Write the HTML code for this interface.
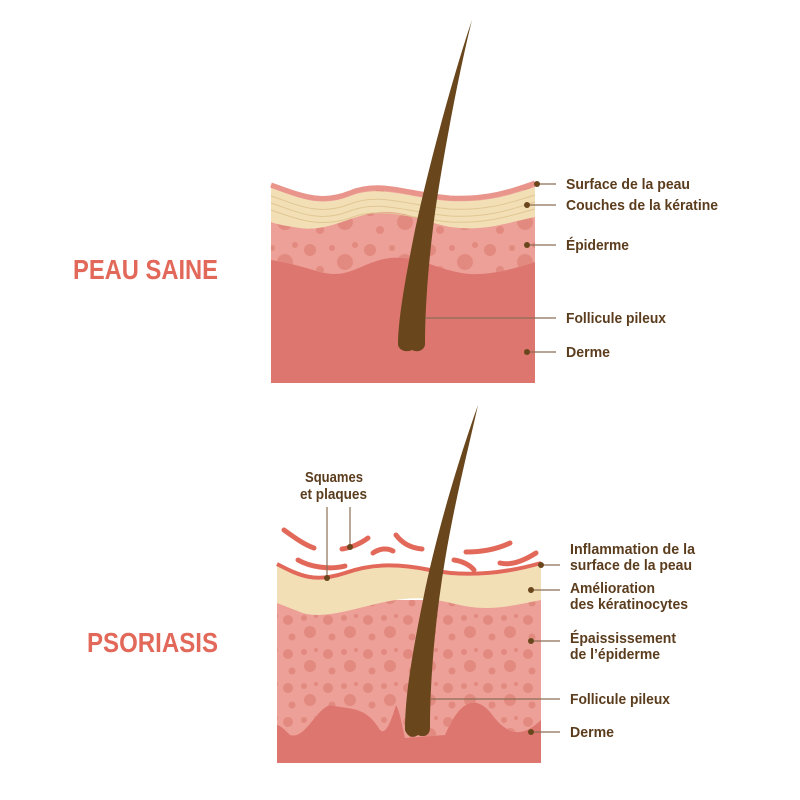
<!DOCTYPE html>
<html><head><meta charset="utf-8"><style>
html,body{margin:0;padding:0;background:#fff;}
svg{display:block}
.l{font-family:"Liberation Sans",sans-serif;font-weight:bold;font-size:15px;fill:#5b3d1e}
.t{font-family:"Liberation Sans",sans-serif;font-weight:bold;font-size:28px;fill:#e2695a}
</style></head><body>
<svg width="800" height="800" viewBox="0 0 800 800" xmlns="http://www.w3.org/2000/svg">
<defs>
<pattern id="dots" width="60" height="40" patternUnits="userSpaceOnUse">
<circle cx="10" cy="10" r="6" fill="#e38a80"/><circle cx="32" cy="8" r="3" fill="#e38a80"/><circle cx="45" cy="22" r="8" fill="#e38a80"/><circle cx="20" cy="30" r="4" fill="#e38a80"/><circle cx="55" cy="5" r="3" fill="#e38a80"/>
</pattern>
<pattern id="dots2" width="40" height="34" patternUnits="userSpaceOnUse">
<circle cx="8" cy="8" r="5" fill="#e38a80"/><circle cx="24" cy="6" r="3" fill="#e38a80"/><circle cx="30" cy="20" r="6" fill="#e38a80"/><circle cx="12" cy="25" r="3.5" fill="#e38a80"/><circle cx="36" cy="4" r="2" fill="#e38a80"/>
</pattern>
</defs>

<rect x="271" y="240" width="264" height="143" fill="#de7670"/>
<path d="M271 185 C300 195 320 205 350 193 C380 180 410 195 450 198 C490 200 515 190 535 183 L535 262 C510 270 490 275 470 274 C440 272 420 255 390 258 C360 262 350 280 320 272 C300 266 285 262 271 260 Z" fill="#eda097"/>
<path d="M271 185 C300 195 320 205 350 193 C380 180 410 195 450 198 C490 200 515 190 535 183 L535 262 C510 270 490 275 470 274 C440 272 420 255 390 258 C360 262 350 280 320 272 C300 266 285 262 271 260 Z" fill="url(#dots)"/>
<path d="M271 188 C300 198 320 208 350 196 C380 184 410 198 450 201 C490 203 515 193 535 187 L535 217 C510 222 490 230 460 228 C430 226 410 210 380 212 C350 215 330 232 300 228 C285 226 276 224 271 222 Z" fill="#f2dfb6"/>
<g fill="none" stroke="#e0c793" stroke-width="1">
<path d="M271 196 C300 206 320 216 350 204 C380 192 410 206 450 209 C490 211 515 201 535 195"/>
<path d="M271 203 C300 213 320 223 350 211 C380 199 410 213 450 216 C490 218 515 208 535 202"/>
<path d="M271 210 C300 220 320 228 350 218 C380 206 410 218 450 222 C490 224 515 214 535 209"/>
</g>
<path d="M271 185 C300 195 320 205 350 193 C380 180 410 195 450 198 C490 200 515 190 535 183" fill="none" stroke="#e9958c" stroke-width="5"/>
<path d="M472 20 C455 70 430 160 415 230 C405 280 398 320 398 345 C400 352 408 352 412 350 C418 353 424 350 425 345 C425 300 430 240 440 180 C450 120 462 60 472 20 Z" fill="#6a461c"/>

<rect x="277" y="600" width="264" height="163" fill="#de7670"/>
<path d="M277 600 L541 600 L541 720 C525 735 510 740 490 712 C475 695 460 700 445 735 L405 738 C402 725 400 712 396 705 C390 725 385 735 380 730 C365 705 350 710 330 705 C315 710 305 740 290 735 C285 730 280 725 277 725 Z" fill="#eda097"/>
<path d="M277 600 L541 600 L541 720 C525 735 510 740 490 712 C475 695 460 700 445 735 L405 738 C402 725 400 712 396 705 C390 725 385 735 380 730 C365 705 350 710 330 705 C315 710 305 740 290 735 C285 730 280 725 277 725 Z" fill="url(#dots2)"/>
<path d="M277 566 C300 578 315 585 345 575 C370 566 395 565 430 572 C470 580 510 574 541 565 L541 600 C515 605 490 612 460 605 C430 598 415 595 380 603 C350 610 320 620 300 612 C290 608 282 605 277 603 Z" fill="#f2dfb6"/>
<path d="M277 564 C300 576 315 583 345 573 C370 564 395 563 430 570 C470 578 510 572 541 563" fill="none" stroke="#e2695a" stroke-width="4"/>
<g fill="none" stroke="#e2695a" stroke-width="5" stroke-linecap="round">
<path d="M284 530 C295 538 305 545 314 548"/>
<path d="M298 560 C310 567 330 570 345 566"/>
<path d="M342 549 C350 548 360 544 368 538"/>
<path d="M373 553 C380 548 388 548 393 551"/>
<path d="M396 535 C402 543 410 548 422 549"/>
<path d="M454 560 C462 561 470 565 474 570"/>
<path d="M466 552 C480 552 495 550 510 543"/>
<path d="M500 563 C512 566 525 560 536 553"/>
</g>
<path d="M478 405 C462 450 440 520 425 590 C415 640 405 690 405 730 C408 738 414 738 418 735 C424 738 430 735 430 728 C430 680 435 620 445 560 C455 500 468 450 478 405 Z" fill="#6a461c"/>

<g stroke="#8c6d55" stroke-width="1.2">
<line x1="537" y1="184" x2="556" y2="184"/>
<line x1="527" y1="205" x2="556" y2="205"/>
<line x1="527" y1="245" x2="556" y2="245"/>
<line x1="425" y1="318" x2="556" y2="318"/>
<line x1="527" y1="352" x2="556" y2="352"/>
<line x1="541" y1="565" x2="560" y2="565"/>
<line x1="531" y1="590" x2="560" y2="590"/>
<line x1="531" y1="641" x2="560" y2="641"/>
<line x1="430" y1="699" x2="560" y2="699"/>
<line x1="531" y1="732" x2="560" y2="732"/>
<line x1="327" y1="507" x2="327" y2="578"/>
<line x1="350" y1="507" x2="350" y2="547"/>
</g>
<g fill="#6a461c">
<circle cx="537" cy="184" r="3"/><circle cx="527" cy="205" r="3"/><circle cx="527" cy="245" r="3"/><circle cx="527" cy="352" r="3"/>
<circle cx="541" cy="565" r="3"/><circle cx="531" cy="590" r="3"/><circle cx="531" cy="641" r="3"/><circle cx="531" cy="732" r="3"/>
<circle cx="327" cy="578" r="3"/><circle cx="350" cy="547" r="3"/>
</g>

<text class="t" x="73" y="279" textLength="145" lengthAdjust="spacingAndGlyphs">PEAU SAINE</text>
<text class="t" x="87" y="652" textLength="131" lengthAdjust="spacingAndGlyphs">PSORIASIS</text>

<text class="l" x="566" y="189" textLength="124" lengthAdjust="spacingAndGlyphs">Surface de la peau</text>
<text class="l" x="566" y="210" textLength="152" lengthAdjust="spacingAndGlyphs">Couches de la kératine</text>
<text class="l" x="566" y="250" textLength="63" lengthAdjust="spacingAndGlyphs">Épiderme</text>
<text class="l" x="566" y="323" textLength="100" lengthAdjust="spacingAndGlyphs">Follicule pileux</text>
<text class="l" x="566" y="357" textLength="44" lengthAdjust="spacingAndGlyphs">Derme</text>

<text class="l" x="305" y="482" textLength="58" lengthAdjust="spacingAndGlyphs">Squames</text>
<text class="l" x="300" y="499" textLength="67" lengthAdjust="spacingAndGlyphs">et plaques</text>

<text class="l" x="570" y="554" textLength="125" lengthAdjust="spacingAndGlyphs">Inflammation de la</text>
<text class="l" x="570" y="570" textLength="122" lengthAdjust="spacingAndGlyphs">surface de la peau</text>
<text class="l" x="570" y="593" textLength="85" lengthAdjust="spacingAndGlyphs">Amélioration</text>
<text class="l" x="570" y="609" textLength="118" lengthAdjust="spacingAndGlyphs">des kératinocytes</text>
<text class="l" x="570" y="643" textLength="106" lengthAdjust="spacingAndGlyphs">Épaississement</text>
<text class="l" x="570" y="659" textLength="90" lengthAdjust="spacingAndGlyphs">de l’épiderme</text>
<text class="l" x="570" y="704" textLength="100" lengthAdjust="spacingAndGlyphs">Follicule pileux</text>
<text class="l" x="570" y="737" textLength="44" lengthAdjust="spacingAndGlyphs">Derme</text>
</svg>
</body></html>
